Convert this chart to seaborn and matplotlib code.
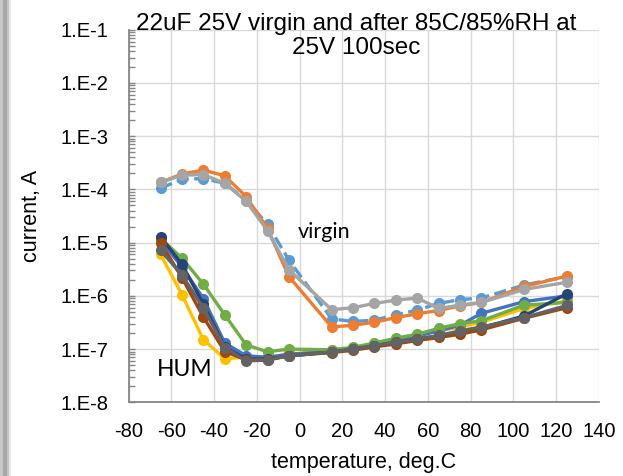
import numpy as np
import pandas as pd
import matplotlib
matplotlib.use("Agg")
import matplotlib.pyplot as plt
from matplotlib.patches import Rectangle
from matplotlib.ticker import FixedLocator, NullFormatter
import seaborn as sns

# ---------------- data ----------------
temps = [-65, -55, -45, -35, -25, -15, -5, 15, 25, 35, 45, 55, 65, 75, 85, 105, 125]

virgin_1 = [1.05e-4, 1.55e-4, 1.6e-4, 1.3e-4, 6.3e-5, 2.2e-5, 4.7e-6, 3.7e-7, 3.3e-7, 3.5e-7,
            4.4e-7, 5.4e-7, 7.2e-7, 8.5e-7, 9.1e-7, 1.6e-6, 2.3e-6]
virgin_2 = [1.35e-4, 1.95e-4, 2.3e-4, 1.8e-4, 7.3e-5, 1.85e-5, 2.3e-6, 2.6e-7, 2.8e-7, 3.2e-7,
            3.9e-7, 4.6e-7, 5.3e-7, 6.5e-7, 7.5e-7, 1.5e-6, 2.35e-6]
virgin_3 = [1.35e-4, 1.85e-4, 1.9e-4, 1.3e-4, 6.0e-5, 1.67e-5, 3.1e-6, 5.5e-7, 6.0e-7, 7.2e-7,
            8.3e-7, 9.1e-7, 5.8e-7, 6.7e-7, 7.5e-7, 1.32e-6, 1.8e-6]

hum_1 = [6.0e-6, 1.05e-6, 1.5e-7, 6.6e-8, 7.0e-8, 7.0e-8, 8.0e-8, 9.5e-8, 1.05e-7, 1.25e-7,
         1.55e-7, 1.8e-7, 2.2e-7, 2.6e-7, 3.2e-7, 5.8e-7, 8.0e-7]
hum_2 = [1.1e-5, 3.5e-6, 8.9e-7, 1.3e-7, 7.5e-8, 7.0e-8, 8.0e-8, 9.0e-8, 1.0e-7, 1.2e-7,
         1.45e-7, 1.75e-7, 2.2e-7, 2.8e-7, 4.7e-7, 7.8e-7, 1.0e-6]
hum_3 = [1.2e-5, 5.1e-6, 1.66e-6, 4.4e-7, 1.2e-7, 8.9e-8, 1.0e-7, 9.7e-8, 1.08e-7, 1.3e-7,
         1.6e-7, 1.9e-7, 2.45e-7, 3.0e-7, 3.4e-7, 6.7e-7, 7.5e-7]
hum_4 = [1.3e-5, 3.9e-6, 7.0e-7, 1.1e-7, 6.5e-8, 6.5e-8, 7.4e-8, 8.8e-8, 1.0e-7, 1.15e-7,
         1.35e-7, 1.55e-7, 1.75e-7, 2.1e-7, 2.5e-7, 4.2e-7, 1.1e-6]
hum_5 = [1.0e-5, 2.2e-6, 4.0e-7, 9.0e-8, 6.3e-8, 6.3e-8, 7.5e-8, 8.6e-8, 9.5e-8, 1.1e-7,
         1.25e-7, 1.45e-7, 1.65e-7, 1.9e-7, 2.3e-7, 3.8e-7, 6.0e-7]
hum_6 = [7.2e-6, 2.45e-6, 5.9e-7, 1.07e-7, 6.0e-8, 6.2e-8, 7.5e-8, 8.8e-8, 1.0e-7, 1.15e-7,
         1.35e-7, 1.55e-7, 1.8e-7, 2.2e-7, 2.6e-7, 3.9e-7, 6.6e-7]

x_ticks = [-80, -60, -40, -20, 0, 20, 40, 60, 80, 100, 120, 140]
y_ticks = [1e-8, 1e-7, 1e-6, 1e-5, 1e-4, 1e-3, 1e-2, 1e-1]
y_tick_labels = ["1.E-8", "1.E-7", "1.E-6", "1.E-5", "1.E-4", "1.E-3", "1.E-2", "1.E-1"]

title = "22uF 25V virgin and after 85C/85%RH at\n25V 100sec"
x_label = "temperature, deg.C"
y_label = "current, A"

# ---------------- style ----------------
sns.set_theme(style="white")
plt.rcParams["font.family"] = ["Liberation Sans", "DejaVu Sans"]

series = [
    (virgin_1, "#5B9BD5", "--"),
    (virgin_2, "#ED7D31", "-"),
    (virgin_3, "#A5A5A5", "-"),
    (hum_1, "#FFC000", "-"),
    (hum_2, "#4472C4", "-"),
    (hum_3, "#70AD47", "-"),
    (hum_4, "#264478", "-"),
    (hum_5, "#9E480E", "-"),
    (hum_6, "#636363", "-"),
]

fig = plt.figure(figsize=(6.23, 4.76), dpi=100)
fig.patch.set_facecolor("white")
ax = fig.add_axes([128.5 / 623, 1 - 402.3 / 476, (599 - 128.5) / 623, (402.3 - 29.7) / 476])

for vals, col, ls in series:
    df = pd.DataFrame({"T": temps, "I": vals})
    sns.lineplot(data=df, x="T", y="I", ax=ax, color=col, linestyle=ls, linewidth=2.4,
                 marker="o", markersize=8, markeredgewidth=0, markeredgecolor=col,
                 legend=False, sort=False)

ax.set_yscale("log")
ax.set_xlim(-80, 140)
ax.set_ylim(1e-8, 1e-1)
ax.set_xticks(x_ticks)
ax.set_xticklabels([str(v) for v in x_ticks])
ax.set_yticks(y_ticks)
ax.set_yticklabels(y_tick_labels)
minor = [m * 10.0 ** e for e in range(-8, -1) for m in range(2, 10)]
ax.yaxis.set_minor_locator(FixedLocator(minor))
ax.yaxis.set_minor_formatter(NullFormatter())

ax.grid(True, which="major", color="#D9D9D9", linewidth=1.0)
ax.set_axisbelow(True)
for side in ["top", "right"]:
    ax.spines[side].set_visible(False)
for side in ["left", "bottom"]:
    ax.spines[side].set_color("#868686")
    ax.spines[side].set_linewidth(1.3)

ax.tick_params(axis="y", which="minor", direction="in", length=4, width=1, color="#868686", left=True)
ax.tick_params(axis="y", which="major", direction="in", length=4, width=1, color="#868686",
               labelsize=14.5, pad=14.5, labelcolor="black", left=True)
ax.tick_params(axis="x", which="major", length=0, labelsize=14.5, pad=14, labelcolor="black")

ax.set_xlabel(x_label, fontsize=15.5, color="black", labelpad=8)
ax.set_ylabel(y_label, fontsize=15.5, color="black", labelpad=13)

fig.text(356 / 623, 1 - 36 / 476, title, ha="center", va="center", fontsize=17.5,
         linespacing=1.12, color="black")

ax.text(0.360, 0.457, "virgin", transform=ax.transAxes, fontsize=15.5, family=["Lato", "DejaVu Sans"],
        ha="left", va="center", color="black")
ax.text(0.0595, 0.0885, "HUM", transform=ax.transAxes, fontsize=16.5, family=["Lato", "DejaVu Sans"],
        ha="left", va="center", color="black")

# left shadow strip
for x0, w, c in [(0, 3, "#C8C8C8"), (3, 4, "#A8A8A8"), (7, 2, "#C4C4C4"), (9, 2, "#E6E6E6")]:
    fig.patches.append(Rectangle((x0 / 623, 0), w / 623, 1, transform=fig.transFigure,
                                 facecolor=c, edgecolor="none", zorder=0))

fig.savefig("out.png", dpi=100)
